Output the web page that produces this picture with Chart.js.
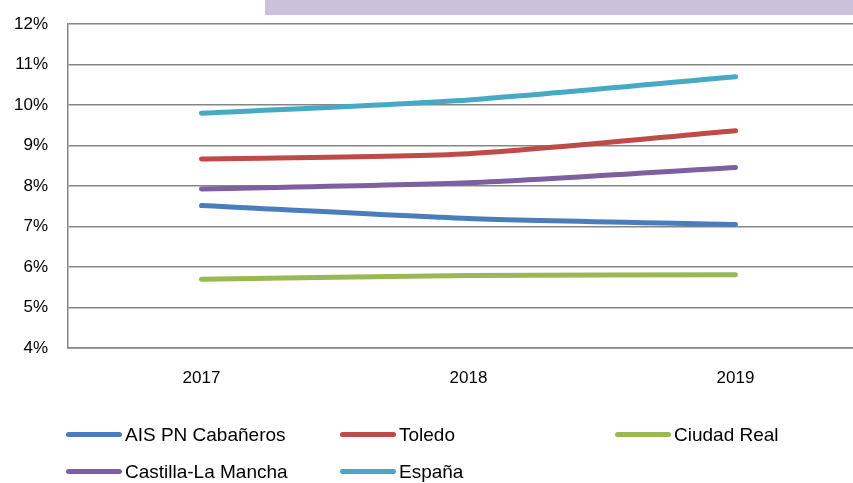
<!DOCTYPE html>
<html>
<head>
<meta charset="utf-8">
<script src="https://cdn.jsdelivr.net/npm/chart.js@4"></script>
<style>
  html, body { margin: 0; padding: 0; background: #fff; overflow: hidden; }
  #wrap { position: relative; width: 853px; height: 483px; overflow: hidden; }
  #box { position: absolute; left: 0; top: -6px; width: 872px; height: 489px; }
  #legend {
    position: absolute; left: 66px; top: 416px;
    display: grid; grid-template-columns: 274px 275px 200px; row-gap: 0;
    font-family: "Liberation Sans", Arial, sans-serif; font-size: 19px; color: #000;
  }
  .item { display: flex; align-items: center; height: 37px; }
  .swatch { width: 56px; height: 5px; border-radius: 3px; margin-right: 3px; }
</style>
</head>
<body>
<div id="wrap">
  <div id="box"><canvas id="lineChart" width="872" height="489"></canvas></div>
  <div id="legend"></div>
</div>
<script>
const years = ["2017", "2018", "2019"];
const seriesNames = ["AIS PN Cabañeros", "Toledo", "Ciudad Real", "Castilla-La Mancha", "España"];
const cabaneros = [7.52, 7.2, 7.05];
const toledo = [8.67, 8.8, 9.37];
const ciudadReal = [5.7, 5.79, 5.81];
const castillaLaMancha = [7.93, 8.08, 8.46];
const espana = [9.8, 10.13, 10.7];
const yTicks = [4, 5, 6, 7, 8, 9, 10, 11, 12];

const colors = ["#4a7ebb", "#be4b48", "#98b954", "#7d60a0", "#46aac5"];
const values = [cabaneros, toledo, ciudadReal, castillaLaMancha, espana];

// purple band at the top (canvas is shifted up 6px)
const titleBox = {
  id: "titleBox",
  beforeDraw(chart) {
    const c = chart.ctx;
    c.save();
    c.fillStyle = "#ccc1da";
    c.fillRect(265, 0, 610, 21);
    c.restore();
  },
};

const ctx = document.getElementById("lineChart");
const chart = new Chart(ctx, {
  type: "line",
  data: {
    labels: years,
    datasets: seriesNames.map((name, i) => ({
      label: name,
      data: values[i],
      borderColor: colors[i],
      backgroundColor: colors[i],
      borderWidth: 5,
      borderCapStyle: "round",
      pointRadius: 0,
      tension: 0.25,
      fill: false,
    })),
  },
  options: {
    responsive: false,
    animation: false,
    layout: { padding: { top: 23, right: 3, left: 0, bottom: 0 } },
    plugins: {
      legend: { display: false },
      tooltip: { enabled: false },
    },
    scales: {
      x: {
        offset: true,
        grid: { display: false, drawTicks: false },
        border: { color: "#868686", width: 1.5 },
        ticks: {
          padding: 20,
          color: "#000",
          font: { family: "Liberation Sans", size: 17 },
        },
        afterFit(scale) {
          scale.height = 135;
        },
      },
      y: {
        min: 4,
        max: 12,
        afterBuildTicks(scale) {
          scale.ticks = yTicks.map((v) => ({ value: v }));
        },
        grid: { color: "#868686", lineWidth: 1.5, drawTicks: false },
        border: { color: "#868686", width: 1.5 },
        ticks: {
          padding: 20,
          color: "#000",
          font: { family: "Liberation Sans", size: 17 },
          callback: (v) => v + "%",
        },
        afterFit(scale) {
          scale.width = 68;
        },
      },
    },
  },
  plugins: [titleBox],
});

const legend = document.getElementById("legend");
chart.data.datasets.forEach((ds) => {
  const item = document.createElement("div");
  item.className = "item";
  const sw = document.createElement("span");
  sw.className = "swatch";
  sw.style.background = ds.borderColor;
  item.appendChild(sw);
  item.appendChild(document.createTextNode(ds.label));
  legend.appendChild(item);
});
</script>
</body>
</html>
